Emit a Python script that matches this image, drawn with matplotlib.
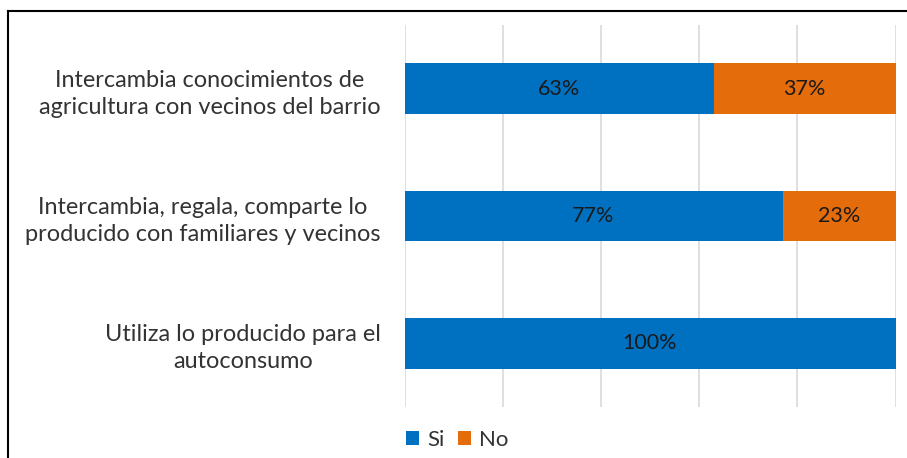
import matplotlib.pyplot as plt
from matplotlib.lines import Line2D

# categories, top to bottom
categories = ["Intercambia conocimientos de\nagricultura con vecinos del barrio",
              "Intercambia, regala, comparte lo\nproducido con familiares y vecinos",
              "Utiliza lo producido para el\nautoconsumo"]
si = [63, 77, 100]
no = [37, 23, 0]
series_names = ["Si", "No"]
colors = ["#0070C0", "#E46C0A"]

plt.rcParams['font.family'] = ['Lato', 'DejaVu Sans']

fig = plt.figure(figsize=(9.07, 4.58), dpi=100)
ax = fig.add_axes([404.5 / 907, 1 - 407 / 458, 491 / 907, 382 / 458])

ypos = list(range(len(categories)))[::-1]
b1 = ax.barh(ypos, si, height=0.4, color=colors[0], label=series_names[0])
b2 = ax.barh(ypos, no, left=si, height=0.4, color=colors[1], label=series_names[1])

for y, s, n in zip(ypos, si, no):
    if s > 0:
        ax.text(s / 2, y, f"{s}%", ha='center', va='center', fontsize=15.5, color='#1a1a1a')
    if n > 0:
        ax.text(s + n / 2, y, f"{n}%", ha='center', va='center', fontsize=15.5, color='#1a1a1a')

ax.set_xlim(0, 100)
ax.set_ylim(-0.5, 2.5)
ax.set_xticks([0, 20, 40, 60, 80, 100])
ax.set_xticklabels([])
ax.tick_params(axis='x', length=0)
ax.grid(axis='x', color='#D9D9D9', linewidth=1.2)
ax.set_axisbelow(True)
ax.set_yticks(ypos)
ax.set_yticklabels(categories, fontsize=16.9, color='#333333', multialignment='center', linespacing=1.35)
ax.tick_params(axis='y', length=0, pad=17)
for sp in ax.spines.values():
    sp.set_visible(False)

fig.legend(handles=[b1, b2], labels=series_names, loc='center', bbox_to_anchor=(457 / 907, 1 - 440 / 458),
           ncol=2, frameon=False, fontsize=16, handlelength=0.6, handleheight=0.6,
           handletextpad=0.35, columnspacing=0.6, labelcolor='#333333')

# outer frame (top and left visible in the reference)
fig.add_artist(Line2D([8 / 907, 1.0], [1 - 11 / 458, 1 - 11 / 458], color='black', linewidth=1.5))
fig.add_artist(Line2D([8 / 907, 8 / 907], [0.0, 1 - 11 / 458], color='black', linewidth=1.5))

fig.savefig("out.png", dpi=100)
